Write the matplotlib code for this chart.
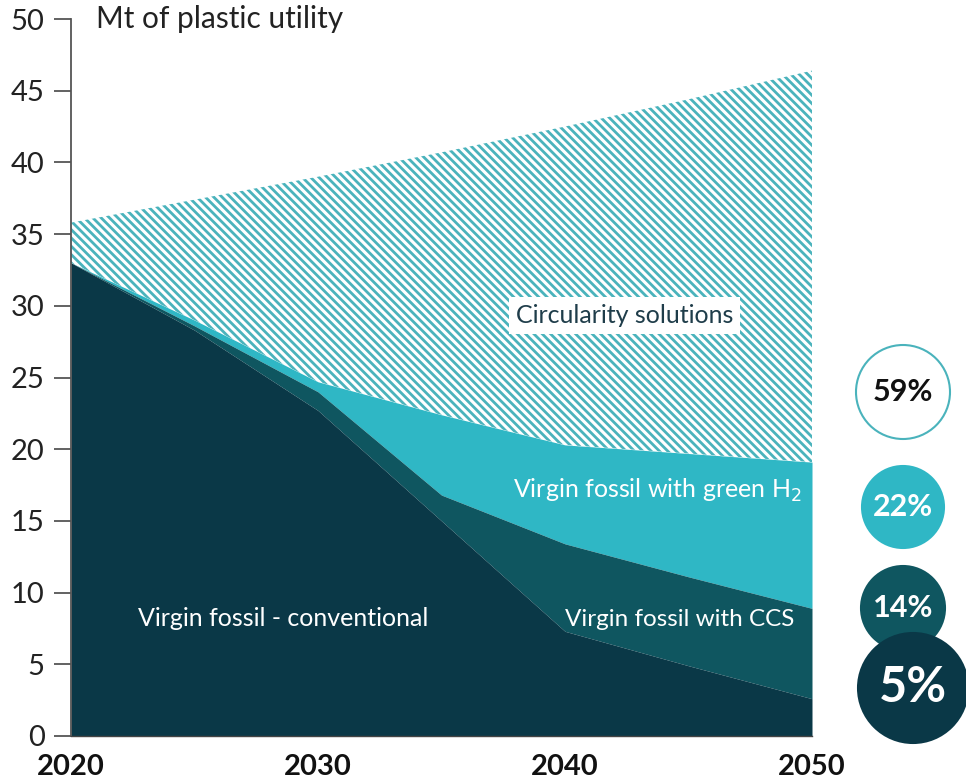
import matplotlib
matplotlib.use("Agg")
import matplotlib.pyplot as plt
from matplotlib.patches import Circle
import numpy as np

plt.rcParams['font.family'] = ['Lato', 'DejaVu Sans']
plt.rcParams['hatch.linewidth'] = 2.0

# Data (Mt of plastic utility, cumulative tops of stacked layers)
years = [2020, 2025, 2030, 2035, 2040, 2045, 2050]
conventional = [33.0, 28.3, 22.7, 15.0, 7.3, 4.9, 2.6]
ccs_top = [33.0, 28.6, 24.0, 16.8, 13.4, 11.1, 8.9]
h2_top = [33.0, 29.0, 24.7, 22.4, 20.3, 19.7, 19.1]
circ_top = [35.8, 37.4, 39.0, 40.7, 42.5, 44.4, 46.4]

shares = ["59%", "22%", "14%", "5%"]
yticks = [0, 5, 10, 15, 20, 25, 30, 35, 40, 45, 50]
xticks = [2020, 2030, 2040, 2050]

c_conv = "#0a3847"
c_ccs = "#0f5660"
c_h2 = "#2fb7c5"
c_hatch = "#4ab3bc"

fig = plt.figure(figsize=(9.66, 7.82), dpi=100)
ax = fig.add_axes([71/966, 1-736/782, (812-71)/966, (736-19)/782])

ax.fill_between(years, circ_top, h2_top, facecolor="white", edgecolor=c_hatch,
                hatch="\\\\\\\\", linewidth=0)
ax.fill_between(years, h2_top, ccs_top, color=c_h2, linewidth=0)
ax.fill_between(years, ccs_top, conventional, color=c_ccs, linewidth=0)
ax.fill_between(years, conventional, 0, color=c_conv, linewidth=0)

ax.set_xlim(2020, 2050)
ax.set_ylim(0, 50)
ax.set_yticks(yticks)
ax.set_xticks(xticks)
ax.set_xticklabels([str(x) for x in xticks], fontweight="bold", fontsize=21)
ax.tick_params(axis="x", length=0, pad=13, colors="#111111")
ax.tick_params(axis="y", length=12, width=1.3, color="#555555", pad=7,
               labelsize=21, labelcolor="#222222")
for s in ["top", "right"]:
    ax.spines[s].set_visible(False)
ax.spines["left"].set_color("#555555")
ax.spines["left"].set_linewidth(1.3)
ax.spines["bottom"].set_color("#444444")
ax.spines["bottom"].set_linewidth(1.0)

ax.text(2021.0, 50, "Mt of plastic utility", fontsize=21.5, color="#222222",
        va="center", ha="left")
ax.text(2042.4, 29.3, "Circularity solutions", fontsize=18, color="#1f3d4a",
        ha="center", va="center",
        bbox=dict(facecolor="white", edgecolor="none", pad=5))
ax.text(2037.9, 17.1, "Virgin fossil with green H$_2$", fontsize=18, color="white",
        ha="left", va="center")
ax.text(2044.65, 8.1, "Virgin fossil with CCS", fontsize=17.5, color="white",
        ha="center", va="center")
ax.text(2028.6, 8.2, "Virgin fossil - conventional", fontsize=18, color="white",
        ha="center", va="center")

# Share circles (inch coordinates)
H = 7.82
circles = [
    (9.03, H - 3.92, 0.47, "white", c_hatch, "#111111", 22),
    (9.03, H - 5.07, 0.41, c_h2, c_h2, "white", 22),
    (9.03, H - 6.08, 0.42, c_ccs, c_ccs, "white", 22),
    (9.13, H - 6.88, 0.55, c_conv, c_conv, "white", 35),
]
for (cx, cy, r, fc, ec, tc, fs), lab in zip(circles, shares):
    circ = Circle((cx, cy), r, transform=fig.dpi_scale_trans, facecolor=fc,
                  edgecolor=ec, linewidth=1.5)
    fig.patches.append(circ)
    fig.text(cx / 9.66, cy / H, lab, ha="center", va="center", fontsize=fs,
             fontweight="bold", color=tc)

fig.savefig("out.png", dpi=100)
